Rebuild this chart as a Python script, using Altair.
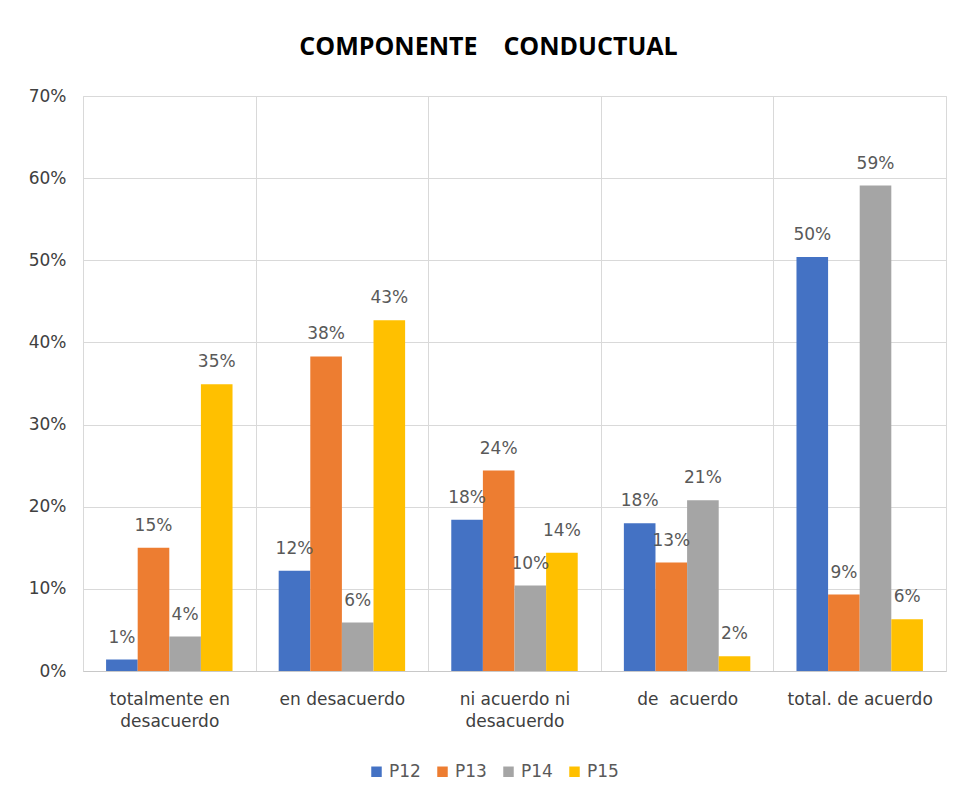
import altair as alt
import pandas as pd

categories = ["totalmente en\ndesacuerdo", "en desacuerdo", "ni acuerdo ni\ndesacuerdo",
              "de\u00a0 acuerdo", "total. de acuerdo"]
series = ["P12", "P13", "P14", "P15"]
p12 = [0.014, 0.122, 0.184, 0.180, 0.504]
p13 = [0.150, 0.383, 0.244, 0.132, 0.093]
p14 = [0.042, 0.059, 0.104, 0.208, 0.591]
p15 = [0.349, 0.427, 0.144, 0.018, 0.063]
colors = ["#4472C4", "#ED7D31", "#A5A5A5", "#FFC000"]

rows = []
for s, vals in zip(series, [p12, p13, p14, p15]):
    for c, v in zip(categories, vals):
        rows.append({"cat": c, "serie": s, "valor": v})
df = pd.DataFrame(rows)

FONT = "DejaVu Sans"
FS = 17

x_enc = alt.X("cat:N", sort=categories, title=None,
              scale=alt.Scale(paddingInner=0, paddingOuter=0),
              axis=alt.Axis(labelAngle=0, ticks=False, tickBand="extent", grid=True,
                            gridColor="#d9d9d9", domainColor="#c8c8c8",
                            labelExpr="split(datum.label, '\\n')",
                            labelPadding=20, labelFontSize=FS, labelColor="#404040",
                            labelLineHeight=22, labelFont=FONT, labelBaseline="top"))
xoff = alt.XOffset("serie:N", sort=series,
                   scale=alt.Scale(paddingInner=0, paddingOuter=0.73))
y_enc = alt.Y("valor:Q", title=None,
              scale=alt.Scale(domain=[0, 0.7]),
              axis=alt.Axis(format=".0%", values=[0, 0.1, 0.2, 0.3, 0.4, 0.5, 0.6, 0.7],
                            domain=False, ticks=False, gridColor="#d9d9d9",
                            labelPadding=17, labelFontSize=FS, labelColor="#404040",
                            labelFont=FONT))

bars = alt.Chart(df).mark_bar().encode(
    x=x_enc, xOffset=xoff, y=y_enc,
    color=alt.Color("serie:N", sort=series,
                    scale=alt.Scale(domain=series, range=colors),
                    legend=alt.Legend(title=None, orient="none", direction="horizontal",
                                      legendX=285, legendY=667, symbolType="square",
                                      symbolSize=110, symbolStrokeWidth=0,
                                      labelFontSize=FS, labelColor="#595959",
                                      labelFont=FONT, columnPadding=13, labelOffset=4)),
)

labels = alt.Chart(df).mark_text(dy=-22, fontSize=FS, color="#595959", font=FONT,
                                 baseline="middle").encode(
    x=alt.X("cat:N", sort=categories), xOffset=alt.XOffset("serie:N", sort=series),
    y="valor:Q",
    text=alt.Text("valor:Q", format=".0%"),
)

chart = alt.layer(bars, labels).properties(
    width=863, height=575,
    title=alt.TitleParams("COMPONENTE\u00a0\u00a0\u00a0\u00a0CONDUCTUAL", font="Open Sans",
                          fontSize=25, fontWeight="bold", color="#000000",
                          anchor="middle", offset=27, dx=-26),
    padding={"left": 83, "top": 96, "right": 17, "bottom": 132},
    autosize=alt.AutoSizeParams(type="none"),
).configure_view(stroke="#d9d9d9").configure(background="white")

chart.save("out.html", embed_options={"renderer": "svg", "actions": False})
